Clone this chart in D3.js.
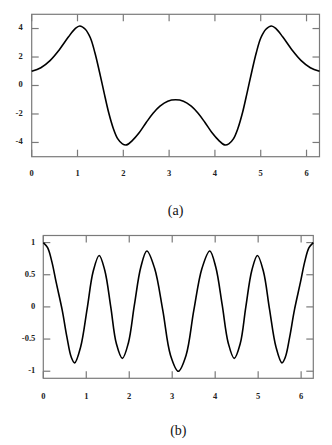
<!DOCTYPE html>
<html>
<head>
<meta charset="utf-8">
<script src="https://cdn.jsdelivr.net/npm/d3@7"></script>
<style>
  html, body { margin: 0; padding: 0; background: #fff; }
  svg { display: block; }
</style>
</head>
<body>
<svg id="chart" width="332" height="445"></svg>
<script>
// ---------- data ----------
// Panel (a): x positions (first half, 0..π) and values; second half mirrors about π
const aX = [0, 0.2, 0.4, 0.6, 0.8, 0.95, 1.05, 1.17, 1.28, 1.38, 1.48, 1.58, 1.68, 1.78, 1.88, 1.98, 2.07, 2.2, 2.35, 2.5, 2.65, 2.8, 2.97, 3.1416];
const aY = [1.0, 1.25, 1.75, 2.5, 3.4, 4.0, 4.18, 3.95, 3.35, 2.3, 0.95, -0.5, -1.9, -3.0, -3.75, -4.1, -4.17, -3.85, -3.3, -2.6, -1.95, -1.45, -1.1, -1.0];
// Panel (b)
const bX = [0, 0.1, 0.2, 0.3, 0.44, 0.55, 0.65, 0.73, 0.87, 1.02, 1.16, 1.30, 1.43, 1.57, 1.70, 1.84, 1.98, 2.12, 2.27, 2.41, 2.59, 2.78, 2.96, 3.1416];
const bY = [1.0, 0.92, 0.7, 0.38, -0.05, -0.47, -0.78, -0.87, -0.62, -0.03, 0.55, 0.80, 0.57, 0.0, -0.57, -0.80, -0.56, 0.03, 0.62, 0.87, 0.6, -0.05, -0.75, -1.0];

const xTicks = [0, 1, 2, 3, 4, 5, 6];
const aYTicks = [-4, -2, 0, 2, 4];
const bYTicks = [-1, -0.5, 0, 0.5, 1];
const captions = ["(a)", "(b)"];

function mirror(xs, ys) {
  const pts = xs.map((x, i) => [x, ys[i]]);
  const back = xs.slice(0, -1).map((x, i) => [2 * Math.PI - x, ys[i]]).reverse();
  return pts.concat(back);
}

const svg = d3.select("#chart");

function panel(cfg) {
  const { left, right, top, bottom, yDomain, yTicks, data, caption, labelY, captionY, yLabelGap } = cfg;
  const x = d3.scaleLinear().domain([0, 2 * Math.PI]).range([left, right]);
  const y = d3.scaleLinear().domain(yDomain).range([bottom, top]);
  const g = svg.append("g");
  const gray = "#7a7a7a";
  const tl = 7;
  const font = "Liberation Serif, Times New Roman, serif";

  g.append("rect").attr("x", left).attr("y", top)
    .attr("width", right - left).attr("height", bottom - top)
    .attr("fill", "none").attr("stroke", gray).attr("stroke-width", 1.2);

  xTicks.forEach(t => {
    const px = x(t);
    g.append("line").attr("x1", px).attr("x2", px).attr("y1", bottom).attr("y2", bottom - tl)
      .attr("stroke", gray).attr("stroke-width", 1.2);
    g.append("line").attr("x1", px).attr("x2", px).attr("y1", top).attr("y2", top + tl)
      .attr("stroke", gray).attr("stroke-width", 1.2);
    g.append("text").attr("x", px).attr("y", labelY)
      .attr("text-anchor", "middle").attr("dominant-baseline", "middle")
      .attr("font-family", font)
      .attr("font-size", 8.5).attr("font-weight", "bold").attr("fill", "#222")
      .text(t);
  });
  yTicks.forEach(t => {
    const py = y(t);
    g.append("line").attr("x1", left).attr("x2", left + tl).attr("y1", py).attr("y2", py)
      .attr("stroke", gray).attr("stroke-width", 1.2);
    g.append("line").attr("x1", right).attr("x2", right - tl).attr("y1", py).attr("y2", py)
      .attr("stroke", gray).attr("stroke-width", 1.2);
    g.append("text").attr("x", left - yLabelGap).attr("y", py)
      .attr("text-anchor", "end").attr("dominant-baseline", "middle")
      .attr("font-family", font)
      .attr("font-size", 8.5).attr("font-weight", "bold").attr("fill", "#222")
      .text(t);
  });

  const line = d3.line().x(d => x(d[0])).y(d => y(d[1])).curve(d3.curveCatmullRom.alpha(0.5));
  g.append("path").datum(data).attr("d", line)
    .attr("fill", "none").attr("stroke", "#000").attr("stroke-width", 1.6);

  g.append("text").attr("x", (left + right) / 2).attr("y", captionY)
    .attr("text-anchor", "middle").attr("dominant-baseline", "middle")
    .attr("font-family", font)
    .attr("font-size", 14).attr("fill", "#111")
    .text(caption);
}

panel({ left: 31.7, right: 319.5, top: 14.3, bottom: 156.7, yDomain: [-5, 5], yTicks: aYTicks,
  data: mirror(aX, aY), caption: captions[0], labelY: 174.5, captionY: 212, yLabelGap: 9 });
panel({ left: 43.3, right: 313.3, top: 235.5, bottom: 378.3, yDomain: [-1.11, 1.11], yTicks: bYTicks,
  data: mirror(bX, bY), caption: captions[1], labelY: 397, captionY: 432, yLabelGap: 8 });
</script>
</body>
</html>
